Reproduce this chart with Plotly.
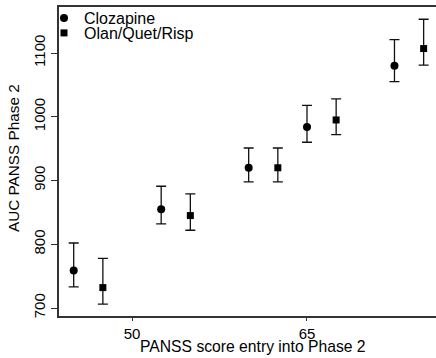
import plotly.graph_objects as go

# Data
cloz_x = [45, 52.5, 60, 65, 72.5]
cloz_y = [759, 855, 920, 984, 1080]
cloz_hi = [802, 891, 951, 1018, 1121]
cloz_lo = [733, 832, 898, 960, 1055]

olan_x = [47.5, 55, 62.5, 67.5, 75]
olan_y = [732, 845, 920, 995, 1107]
olan_hi = [778, 879, 951, 1028, 1153]
olan_lo = [706, 822, 898, 972, 1081]

x_ticks = [50, 65]
y_ticks = [700, 800, 900, 1000, 1100]

x_title = "PANSS score entry into Phase 2"
y_title = "AUC PANSS Phase 2"

FONT = "Liberation Sans, Arial, Helvetica, sans-serif"

L, T, W, H = 59, 7, 377, 309

def err(vals, hi, lo):
    return dict(
        type="data", symmetric=False,
        array=[h - v for h, v in zip(hi, vals)],
        arrayminus=[v - l for v, l in zip(vals, lo)],
        color="#111111", thickness=1.3, width=5,
    )

fig = go.Figure()
fig.add_trace(go.Scatter(
    x=cloz_x, y=cloz_y, mode="markers", name="Clozapine",
    marker=dict(symbol="circle", size=8, color="black"),
    error_y=err(cloz_y, cloz_hi, cloz_lo), legend="legend", showlegend=True,
))
fig.add_trace(go.Scatter(
    x=olan_x, y=olan_y, mode="markers", name="Olan/Quet/Risp",
    marker=dict(symbol="square", size=7, color="black"),
    error_y=err(olan_y, olan_hi, olan_lo), legend="legend2", showlegend=True,
))

leg_common = dict(
    xanchor="left", yanchor="middle",
    bgcolor="rgba(0,0,0,0)", borderwidth=0,
    font=dict(family=FONT, size=16, color="black"),
    itemwidth=30, tracegroupgap=0, visible=True,
)

def px_x(p):
    return (p - L) / W

def px_y(p):
    return 1 - (p - T) / H

fig.update_layout(
    width=436, height=358, showlegend=True,
    margin=dict(l=L, r=436 - L - W, t=T, b=358 - T - H, autoexpand=False),
    paper_bgcolor="white", plot_bgcolor="white",
    font=dict(family=FONT, size=15, color="black"),
    legend=dict(x=px_x(44), y=px_y(18), **leg_common),
    legend2=dict(x=px_x(44), y=px_y(33), **leg_common),
    xaxis=dict(
        range=[43.74, 76.06], tickvals=x_ticks, ticktext=[str(v) for v in x_ticks],
        showgrid=False, zeroline=False, automargin=False,
        showline=True, mirror=True, linecolor="#333333", linewidth=1.5,
        ticks="outside", ticklen=3, tickcolor="#333333", tickwidth=1,
        tickfont=dict(size=15),
    ),
    yaxis=dict(
        range=[687.45, 1172.2], tickvals=y_ticks, ticktext=[str(v) for v in y_ticks],
        showgrid=False, zeroline=False, automargin=False,
        showline=True, mirror=False, linecolor="#333333", linewidth=1.5,
        ticks="outside", ticklen=6, tickcolor="#333333", tickwidth=1,
        tickangle=-90, tickfont=dict(size=15),
    ),
    annotations=[
        dict(text=x_title, xref="paper", yref="paper", x=px_x(253), y=px_y(346),
             xanchor="center", yanchor="middle", showarrow=False,
             font=dict(family=FONT, size=15.7, color="black")),
        dict(text=y_title, xref="paper", yref="paper", x=px_x(13), y=px_y(158),
             xanchor="center", yanchor="middle", showarrow=False, textangle=-90,
             font=dict(family=FONT, size=15.3, color="black")),
    ],
)

fig.write_html("out.html")
